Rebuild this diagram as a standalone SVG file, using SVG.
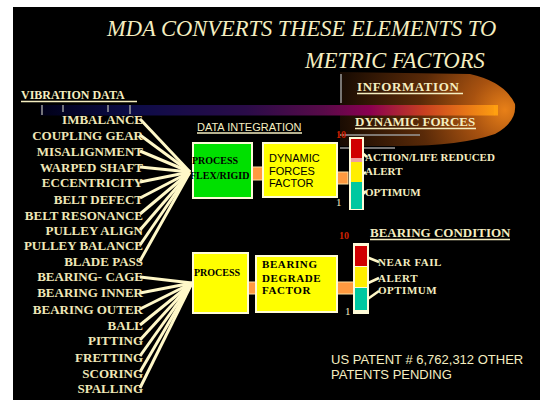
<svg xmlns="http://www.w3.org/2000/svg" width="540" height="400" viewBox="0 0 540 400">
<defs>
<linearGradient id="bar" x1="0" y1="0" x2="1" y2="0">
<stop offset="0" stop-color="#000018"/>
<stop offset="0.2" stop-color="#0c0c48"/>
<stop offset="0.45" stop-color="#2a0c48"/>
<stop offset="0.62" stop-color="#580a48"/>
<stop offset="0.72" stop-color="#8a0050"/>
<stop offset="0.84" stop-color="#c84020"/>
<stop offset="1" stop-color="#ffa010"/>
</linearGradient>
<radialGradient id="glow" cx="500" cy="110" r="165" fx="505" fy="110" gradientUnits="userSpaceOnUse">
<stop offset="0" stop-color="#e88018"/>
<stop offset="0.2" stop-color="#a85210"/>
<stop offset="0.5" stop-color="#5a2a08"/>
<stop offset="1" stop-color="#160a02"/>
</radialGradient>
<style>
.t{font-family:"Liberation Serif","Times New Roman",serif;fill:#f5eec0}
.b{font-weight:bold}
.s{font-family:"Liberation Sans",Arial,sans-serif}
.lst{font-family:"Liberation Serif","Times New Roman",serif;font-weight:bold;font-size:13px;fill:#f0e8b8;text-anchor:end}
.fan{stroke:#fff8c8;stroke-width:3;fill:none}
.ul{stroke:#f5eec0;stroke-width:1.5}
.box{stroke:#fffbd8;stroke-width:2}
.blk{font-family:"Liberation Serif","Times New Roman",serif;font-weight:bold;fill:#000}
.org{fill:#ff9a40;stroke:#ffe0a0;stroke-width:1}
.ptr{stroke:#fff8c8;stroke-width:2.5}
.red{font-family:"Liberation Serif","Times New Roman",serif;font-weight:bold;font-size:10px;fill:#d02000}
</style>
</defs>
<rect x="0" y="0" width="540" height="400" fill="#ffffff"/>
<rect x="13" y="7" width="527" height="393" fill="#000"/>

<g id="background-graphic">
<path d="M340,72 L470,74 Q505,82 515,104 Q517,122 495,134 Q460,146 400,146 L340,146 Z" fill="url(#glow)"/>
<rect x="40" y="105" width="458" height="10.5" fill="url(#bar)"/>
<path d="M494,105 Q502,110 494,115.5 Z" fill="#ffa010"/>
<g stroke="#9a9a9a" stroke-width="1.5">
<line x1="341" y1="74" x2="341" y2="103"/>
<line x1="340" y1="135" x2="420" y2="135"/>
<line x1="340" y1="148" x2="395" y2="148"/>
<line x1="42" y1="105" x2="42" y2="115"/>
<line x1="63" y1="105" x2="63" y2="112"/>
<line x1="108" y1="105" x2="108" y2="112"/>
<line x1="130" y1="105" x2="130" y2="114"/>
</g>
</g>

<g id="title">
<text class="t" x="107" y="36" font-size="22.5" font-style="italic">MDA CONVERTS THESE ELEMENTS TO</text>
<text class="t" x="305" y="68" font-size="22.5" font-style="italic">METRIC FACTORS</text>
</g>

<g id="headings">
<text class="t b" x="21" y="99" font-size="12">VIBRATION DATA</text>
<line class="ul" x1="21" y1="101.5" x2="137" y2="101.5"/>
<text class="t b" x="357" y="91" font-size="13" letter-spacing="0.6">INFORMATION</text>
<line class="ul" x1="357" y1="93.5" x2="463" y2="93.5"/>
<text class="t b" x="355" y="126" font-size="13">DYNAMIC FORCES</text>
<line class="ul" x1="355" y1="128.5" x2="476" y2="128.5"/>
<text class="t s" x="197" y="131" font-size="11">DATA INTEGRATION</text>
<line class="ul" x1="197" y1="133" x2="302" y2="133" stroke-width="1"/>
<text class="t b" x="370" y="237" font-size="13">BEARING CONDITION</text>
<line class="ul" x1="370" y1="239.5" x2="510" y2="239.5"/>
</g>

<g id="connectors">
<line class="fan" x1="140" y1="119" x2="190" y2="172"/>
<line class="fan" x1="140" y1="135" x2="190" y2="172"/>
<line class="fan" x1="140" y1="151" x2="190" y2="172"/>
<line class="fan" x1="140" y1="167" x2="190" y2="172"/>
<line class="fan" x1="140" y1="182" x2="190" y2="172"/>
<line class="fan" x1="140" y1="198" x2="190" y2="172"/>
<line class="fan" x1="140" y1="214" x2="190" y2="172"/>
<line class="fan" x1="140" y1="230" x2="190" y2="172"/>
<line class="fan" x1="140" y1="245" x2="190" y2="172"/>
<line class="fan" x1="140" y1="261" x2="190" y2="172"/>
<line class="fan" x1="140" y1="277" x2="192" y2="283" stroke-width="1.5"/>
<line class="fan" x1="140" y1="293" x2="192" y2="283"/>
<line class="fan" x1="140" y1="309" x2="192" y2="283"/>
<line class="fan" x1="140" y1="325" x2="192" y2="283"/>
<line class="fan" x1="140" y1="340" x2="192" y2="283"/>
<line class="fan" x1="140" y1="356" x2="192" y2="283"/>
<line class="fan" x1="140" y1="372" x2="192" y2="283"/>
<line class="fan" x1="140" y1="388" x2="192" y2="283"/>
<rect class="org" x="247" y="167" width="23" height="13"/>
<rect class="org" x="332" y="172" width="16" height="12"/>
<rect class="org" x="243" y="282" width="17" height="12"/>
<rect class="org" x="334" y="282" width="20" height="12"/>
<line class="ptr" x1="360" y1="151" x2="367" y2="157"/>
<line class="ptr" x1="360" y1="176" x2="366" y2="172"/>
<line class="ptr" x1="359" y1="198" x2="366" y2="191"/>
<line class="ptr" x1="364" y1="256" x2="379" y2="262"/>
<line class="ptr" x1="366" y1="284" x2="379" y2="278"/>
<line class="ptr" x1="362" y1="303" x2="379" y2="291"/>
</g>

<g id="vibration-list">
<text class="lst" x="143" y="123.5">IMBALANCE</text>
<text class="lst" x="143" y="139.5">COUPLING GEAR</text>
<text class="lst" x="143" y="155.5">MISALIGNMENT</text>
<text class="lst" x="143" y="171.5">WARPED SHAFT</text>
<text class="lst" x="143" y="186.5">ECCENTRICITY</text>
<text class="lst" x="143" y="203.5">BELT DEFECT</text>
<text class="lst" x="143" y="219.5">BELT RESONANCE</text>
<text class="lst" x="143" y="234.5">PULLEY ALIGN</text>
<text class="lst" x="143" y="249.5">PULLEY BALANCE</text>
<text class="lst" x="143" y="265.5">BLADE PASS</text>
<text class="lst" x="143" y="280.5">BEARING- CAGE</text>
<text class="lst" x="143" y="296.5">BEARING INNER</text>
<text class="lst" x="143" y="313.5">BEARING OUTER</text>
<text class="lst" x="143" y="329.5">BALL</text>
<text class="lst" x="143" y="344.5">PITTING</text>
<text class="lst" x="143" y="361.5">FRETTING</text>
<text class="lst" x="143" y="377.5">SCORING</text>
<text class="lst" x="143" y="392.5">SPALLING</text>
</g>

<g id="process-flex">
<rect class="box" x="193" y="143" width="59" height="55" fill="#00e000"/>
<text class="blk" x="192" y="163.5" font-size="10">PROCESS</text>
<text class="blk" x="190" y="178.5" font-size="10">FLEX/RIGID</text>
</g>

<g id="dynamic-forces-factor">
<rect class="box" x="263" y="143" width="74" height="54" fill="#ffff00"/>
<text class="s" x="269" y="162" font-size="11" fill="#000">DYNAMIC</text>
<text class="s" x="269" y="175" font-size="11" fill="#000">FORCES</text>
<text class="s" x="269" y="187" font-size="11" fill="#000">FACTOR</text>
</g>

<g id="gauge-dynamic">
<rect x="349" y="137" width="15" height="73" fill="#fffbd8"/>
<rect x="351" y="139" width="11" height="19" fill="#d00000"/>
<rect x="351" y="158" width="11" height="4" fill="#f0a0a0"/>
<rect x="351" y="162" width="11" height="20" fill="#ffee00"/>
<rect x="351" y="182" width="11" height="27" fill="#00c8a0"/>
<text class="red" x="336" y="138">10</text>
<text class="t" x="336" y="206" font-size="11">1</text>
<text class="t b" x="365" y="161" font-size="11">ACTION/LIFE REDUCED</text>
<text class="t b" x="365" y="175" font-size="11">ALERT</text>
<text class="t b" x="365" y="196" font-size="11">OPTIMUM</text>
</g>

<g id="process-bearing">
<rect class="box" x="193" y="253" width="55" height="60" fill="#ffff00"/>
<text class="blk" x="194" y="276" font-size="10">PROCESS</text>
</g>

<g id="bearing-degrade-factor">
<rect class="box" x="256" y="256" width="81" height="56" fill="#ffff00"/>
<text class="blk" x="262" y="268" font-size="11" letter-spacing="0.6">BEARING</text>
<text class="blk" x="262" y="282" font-size="11" letter-spacing="0.6">DEGRADE</text>
<text class="blk" x="262" y="294" font-size="11" letter-spacing="0.6">FACTOR</text>
</g>

<g id="gauge-bearing">
<rect x="353" y="243" width="16" height="71" fill="#fffbd8"/>
<rect x="355" y="246" width="12" height="20" fill="#d00000"/>
<rect x="355" y="267" width="12" height="20" fill="#ffee00"/>
<rect x="355" y="288" width="12" height="22" fill="#00c8a0"/>
<text class="red" x="339" y="239">10</text>
<text class="t" x="345" y="315" font-size="11">1</text>
<text class="t b" x="378" y="266" font-size="11" letter-spacing="0.5">NEAR FAIL</text>
<text class="t b" x="378" y="282" font-size="11" letter-spacing="0.5">ALERT</text>
<text class="t b" x="378" y="294" font-size="11" letter-spacing="0.5">OPTIMUM</text>
</g>

<g id="patent">
<text class="t s" x="331" y="364" font-size="13">US PATENT # 6,762,312 OTHER</text>
<text class="t s" x="331" y="379" font-size="13">PATENTS PENDING</text>
</g>
</svg>
